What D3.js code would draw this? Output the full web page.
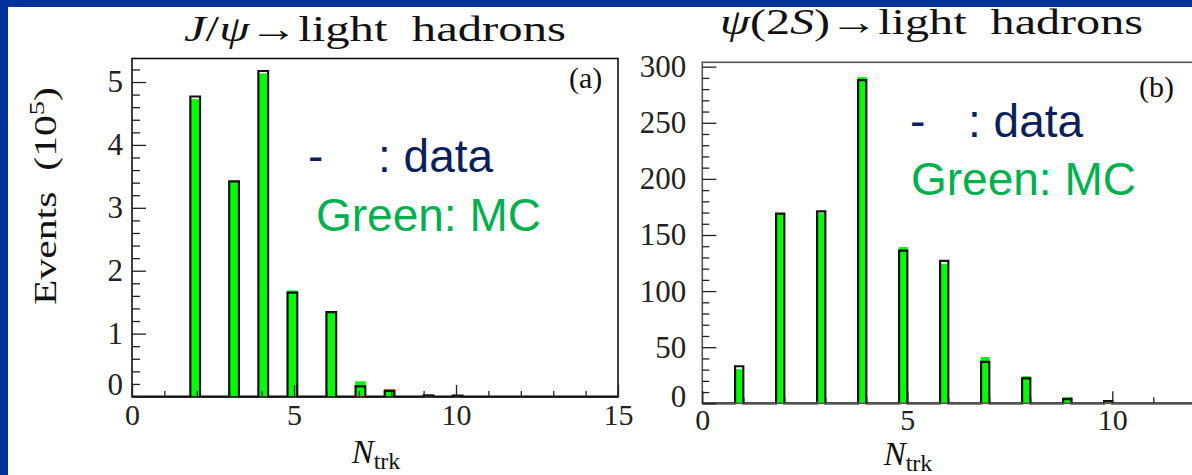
<!DOCTYPE html>
<html>
<head>
<meta charset="utf-8">
<script src="https://cdn.jsdelivr.net/npm/d3@7"></script>
<style>
  body { margin: 0; background: #003399; }
  svg { display: block; }
  .tick text { font-family: 'Liberation Serif', 'Times New Roman', serif; }
</style>
</head>
<body>
<svg id="fig" width="1192" height="475"></svg>
<script>
// ---- charged-track multiplicity, J/psi -> light hadrons (events in units of 10^5)
const jpsiNtrk = [2, 3, 4, 5, 6, 7, 8, 9, 10];
const jpsiData = [4.77, 3.42, 5.175, 1.65, 1.34, 0.16, 0.09, 0.02, 0.015];
const jpsiMC   = [4.725, 3.42, 5.13, 1.68, 1.35, 0.235, 0.115, 0.015, 0.01];

// ---- charged-track multiplicity, psi(2S) -> light hadrons (events)
const psipNtrk = [1, 2, 3, 4, 5, 6, 7, 8, 9, 10];
const psipData = [33, 169, 171, 288, 136, 127, 37, 22.3, 3.8, 2];
const psipMC   = [30, 169, 169, 290.5, 139, 124, 41, 23.7, 5.3, 1];

// ---- axis tick labels
const jpsiYTicks = [0, 1, 2, 3, 4, 5];
const psipYTicks = [0, 50, 100, 150, 200, 250, 300];
const jpsiXTicks = [0, 5, 10, 15];
const psipXTicks = [0, 5, 10];

const SERIF = "'Liberation Serif', 'Times New Roman', serif";
const SANS = "'Liberation Sans', Arial, sans-serif";

const svg = d3.select("#fig");

// white sheet over the blue slide background
svg.append("rect").attr("width", 1192).attr("height", 475).attr("fill", "#003399");
svg.append("rect").attr("x", 8).attr("y", 7).attr("width", 1184).attr("height", 468).attr("fill", "#ffffff");

// place each N_trk entry into a fixed-width histogram bin
function fillBins(ntrk, counts, width, nBins, closedRight) {
  const bins = new Array(nBins).fill(0);
  ntrk.forEach((n, i) => {
    const k = closedRight ? Math.ceil(n / width - 1e-9) - 1 : Math.floor(n / width + 1e-9);
    if (k >= 0 && k < nBins) bins[k] += counts[i];
  });
  return bins;
}

function styleAxis(a) {
  a.attr("font-family", SERIF);
  a.select(".domain").remove();
  a.selectAll(".tick line").attr("stroke", "#222").attr("stroke-width", 1.3);
}

function drawPanel(cfg) {
  const x = d3.scaleLinear().domain(cfg.xDomain).range(cfg.xRange);
  const y = d3.scaleLinear().domain(cfg.yDomain).range(cfg.yRange);
  const nBins = Math.round((cfg.xDomain[1] - cfg.xDomain[0]) / cfg.binWidth);
  const mcBins = fillBins(cfg.ntrk, cfg.mc, cfg.binWidth, nBins, cfg.closedRight);
  const dataBins = fillBins(cfg.ntrk, cfg.data, cfg.binWidth, nBins, cfg.closedRight);
  const edge = i => cfg.xDomain[0] + i * cfg.binWidth;

  const g = svg.append("g");
  const clipId = "clip-" + cfg.id;
  g.append("clipPath").attr("id", clipId).append("rect")
    .attr("x", cfg.xRange[0]).attr("y", cfg.yRange[1])
    .attr("width", cfg.xRange[1] - cfg.xRange[0]).attr("height", cfg.yRange[0] - cfg.yRange[1] + 2);

  const plot = g.append("g").attr("clip-path", `url(#${clipId})`);

  // Monte Carlo: filled green bins
  plot.selectAll("rect.mc")
    .data(mcBins.map((v, i) => ({ v, i })).filter(d => d.v > 0))
    .join("rect").attr("class", "mc")
    .attr("x", d => x(edge(d.i)))
    .attr("width", d => x(edge(d.i + 1)) - x(edge(d.i)))
    .attr("y", d => y(d.v))
    .attr("height", d => y(0) - y(d.v))
    .attr("fill", "#00ff00")
    .attr("stroke", "#00e600").attr("stroke-width", 0.6);

  // data: black step outline
  const pts = dataBins.map((v, i) => [edge(i), v]);
  pts.push([edge(nBins), dataBins[nBins - 1]]);
  const step = d3.line().x(d => x(d[0])).y(d => y(d[1])).curve(d3.curveStepAfter);
  plot.append("path").attr("d", step(pts))
    .attr("fill", "none").attr("stroke", "#111").attr("stroke-width", 2.2)
    .attr("stroke-linejoin", "miter");

  // frame
  g.append("rect")
    .attr("x", cfg.xRange[0]).attr("y", cfg.frameTop)
    .attr("width", cfg.xRange[1] - cfg.xRange[0]).attr("height", cfg.frameBottom - cfg.frameTop)
    .attr("fill", "none").attr("stroke", cfg.frameColor).attr("stroke-width", 1.6);

  // y ticks (inward), minor and major
  const yMinor = d3.range(cfg.yDomain[0], cfg.yDomain[1] + 1e-9, cfg.yMinorStep)
    .filter(v => !cfg.yTicks.some(t => Math.abs(t - v) < 1e-6));
  const yMinorAxis = g.append("g").attr("transform", `translate(${cfg.xRange[0]},0)`)
    .call(d3.axisLeft(y).tickValues(yMinor).tickSize(-cfg.minorLen).tickFormat(""));
  const yMajorAxis = g.append("g").attr("transform", `translate(${cfg.xRange[0]},0)`)
    .call(d3.axisLeft(y).tickValues(cfg.yTicks).tickFormat(d3.format("d"))
      .tickSize(-cfg.majorLenY).tickPadding(cfg.yPad));
  styleAxis(yMinorAxis);
  styleAxis(yMajorAxis);
  yMajorAxis.selectAll(".tick text")
    .style("font-family", SERIF).attr("font-size", 31).attr("fill", "#222")
    .attr("dy", d => (d === 0 ? cfg.zeroLabelDy : "0.32em"));

  // x ticks (inward)
  const xMinor = d3.range(cfg.xDomain[0], cfg.xDomain[1] + 1e-9, 1)
    .filter(v => !cfg.xTicks.includes(v));
  const xMinorAxis = g.append("g").attr("transform", `translate(0,${cfg.frameBottom})`)
    .call(d3.axisBottom(x).tickValues(xMinor).tickSize(-6).tickFormat(""));
  const xMajorAxis = g.append("g").attr("transform", `translate(0,${cfg.frameBottom})`)
    .call(d3.axisBottom(x).tickValues(cfg.xTicks).tickFormat(d3.format("d"))
      .tickSize(-cfg.majorLenX).tickPadding(cfg.xPad));
  styleAxis(xMinorAxis);
  styleAxis(xMajorAxis);
  xMajorAxis.selectAll(".tick text")
    .style("font-family", SERIF).attr("font-size", 30).attr("fill", "#222");

  // x-axis title N_trk
  const xt = svg.append("text")
    .attr("x", cfg.xTitleX).attr("y", cfg.xTitleY)
    .attr("text-anchor", "middle").style("font-family", SERIF).attr("fill", "#111");
  xt.append("tspan").attr("font-style", "italic").attr("font-size", 33).text("N");
  xt.append("tspan").attr("font-size", 24).attr("dy", 6).text("trk");

  // panel tag
  svg.append("text").attr("x", cfg.tagX).attr("y", cfg.tagY)
    .style("font-family", SERIF).attr("font-size", 30).attr("fill", "#111").text(cfg.tag);

  // legend note
  svg.append("text").attr("x", cfg.noteX).attr("y", cfg.noteY1)
    .style("font-family", SANS).attr("font-size", 46).attr("fill", "#0b1f5c").text("-");
  svg.append("text").attr("x", cfg.noteX + cfg.colonOffset).attr("y", cfg.noteY1)
    .style("font-family", SANS).attr("font-size", 46).attr("fill", "#0b1f5c").text(": data");
  svg.append("text").attr("x", cfg.noteX + cfg.greenOffset).attr("y", cfg.noteY2)
    .style("font-family", SANS).attr("font-size", 46).attr("fill", "#00b050").text("Green: MC");
}

drawPanel({
  id: "a", ntrk: jpsiNtrk, data: jpsiData, mc: jpsiMC,
  xDomain: [0, 15], xRange: [132, 618],
  yDomain: [0, 5.374], yRange: [396.5, 58.5],
  frameTop: 58.5, frameBottom: 397, frameColor: "#111",
  binWidth: 0.3, closedRight: false,
  yTicks: jpsiYTicks, yMinorStep: 0.2, xTicks: jpsiXTicks,
  minorLen: 8, majorLenY: 14, majorLenX: 12, yPad: 9, xPad: 7,
  zeroLabelDy: "-0.05em",
  xTitleX: 376, xTitleY: 463,
  tag: "(a)", tagX: 569, tagY: 88,
  noteX: 308, noteY1: 172, noteY2: 231, colonOffset: 70, greenOffset: 8
});

drawPanel({
  id: "b", ntrk: psipNtrk, data: psipData, mc: psipMC,
  xDomain: [0, 15], xRange: [702.3, 1317.3],
  yDomain: [0, 303.9], yRange: [403.3, 62.3],
  frameTop: 62.3, frameBottom: 403.3, frameColor: "#555",
  binWidth: 0.2, closedRight: true,
  yTicks: psipYTicks, yMinorStep: 10, xTicks: psipXTicks,
  minorLen: 7, majorLenY: 14, majorLenX: 12, yPad: 16, xPad: 5,
  zeroLabelDy: "0.1em",
  xTitleX: 908, xTitleY: 465,
  tag: "(b)", tagX: 1139, tagY: 97,
  noteX: 910, noteY1: 137, noteY2: 195, colonOffset: 58, greenOffset: 1
});

// panel titles
function title(x, y, len, parts) {
  const t = svg.append("text").attr("x", x).attr("y", y)
    .style("font-family", SERIF).attr("font-size", 36).attr("fill", "#111")
    .attr("textLength", len).attr("lengthAdjust", "spacingAndGlyphs");
  parts.forEach(([s, it]) => t.append("tspan").attr("font-style", it ? "italic" : "normal").text(s));
}
title(184, 41, 382, [["J", true], ["/", false], ["ψ", true], ["→light\u00a0\u00a0hadrons", false]]);
title(720, 34, 423, [["ψ", true], ["(2", false], ["S", true], [")→light\u00a0\u00a0hadrons", false]]);

// y-axis title of the left panel
const yt = svg.append("text")
  .attr("transform", "translate(56,196) rotate(-90)")
  .attr("text-anchor", "middle").style("font-family", SERIF).attr("font-size", 32).attr("fill", "#111")
  .attr("textLength", 218).attr("lengthAdjust", "spacingAndGlyphs");
yt.append("tspan").text("Events\u00a0\u00a0(10");
yt.append("tspan").attr("font-size", 22).attr("dy", -12).text("5");
yt.append("tspan").attr("dy", 12).text(")");
</script>
</body>
</html>
